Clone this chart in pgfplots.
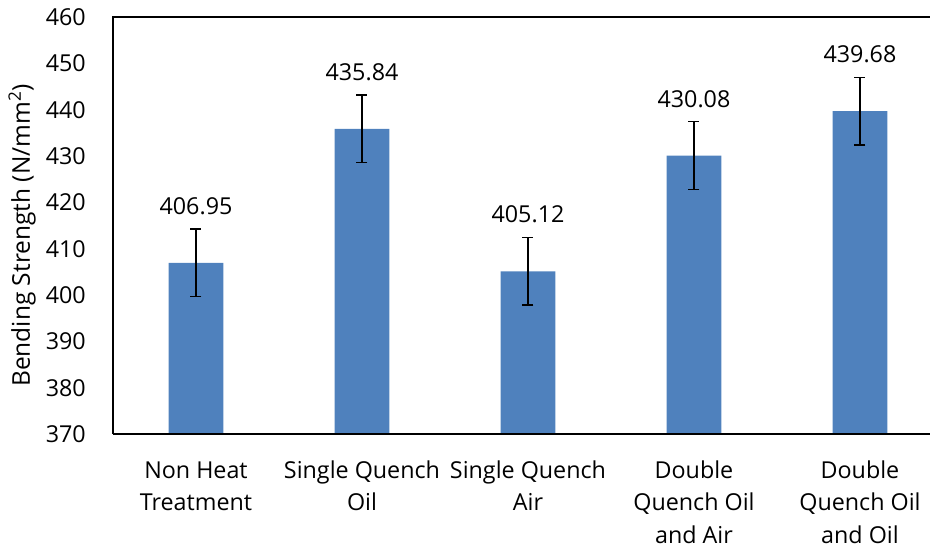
\documentclass[border=0pt]{standalone}
\usepackage{pgfplots}
\pgfplotsset{compat=1.18}
\usepackage{fontspec}
\setmainfont{Open Sans}
\definecolor{barblue}{HTML}{4F81BD}
\begin{document}
\begin{tikzpicture}
\path[use as bounding box] (-113bp,-114bp) rectangle (817bp,434bp);
\begin{axis}[
  at={(0,0)}, anchor=south west,
  scale only axis,
  width=817bp, height=417bp,
  xmin=-0.5, xmax=4.422,
  ymin=370, ymax=460,
  ytick={370,380,...,460},
  xtick={0,1,2,3,4},
  xticklabels={{\strut Non Heat\\Treatment},{\strut Single Quench\\Oil},{\strut Single Quench\\Air},{\strut Double\\Quench Oil\\and Air},{\strut Double\\Quench Oil\\and Oil}},
  axis line style={draw=none},
  major tick length=0pt,
  tick style={draw=none},
  /pgf/number format/assume math mode=true,
  ticklabel style={font=\fontsize{23.3bp}{32.7bp}\selectfont},
  yticklabel style={anchor=east, inner sep=0pt, xshift=-27bp},
  xticklabel style={align=center, anchor=north, inner sep=0pt, yshift=-21bp},
  ylabel={Bending Strength (N/mm\textsuperscript{2})},
  ylabel style={font=\fontsize{24.5bp}{26bp}\selectfont, at={(rel axis cs:0,0.5)}, anchor=south, yshift=77bp, xshift=-10bp, inner sep=0pt},
  clip=false,
]
\addplot[ybar, bar width=0.33, fill=barblue, draw=none,
  error bars/.cd, y dir=both, y explicit,
  error bar style={black, line width=1.3bp},
  error mark options={black, line width=1.3bp, mark size=5.5bp, rotate=90},
] table[x=x, y=y, y error=e] {
x y e
0 406.95 7.3
1 435.84 7.3
2 405.12 7.3
3 430.08 7.3
4 439.68 7.3
};
\addplot[only marks, mark=none,
  nodes near coords, point meta=explicit symbolic,
  every node near coord/.append style={font=\fontsize{23.3bp}{26bp}\selectfont, anchor=south, inner sep=0pt, yshift=48bp, black},
] table[x=x, y=y, meta=m] {
x y m
0 406.95 406.95
1 435.84 435.84
2 405.12 405.12
3 430.08 430.08
4 439.68 439.68
};
\draw[black, line width=1.3bp] (rel axis cs:0,0) -- (rel axis cs:0,1) -- (rel axis cs:1,1);
\draw[black, line width=1.3bp] (rel axis cs:0,0) -- (rel axis cs:1,0);
\end{axis}
\end{tikzpicture}
\end{document}
